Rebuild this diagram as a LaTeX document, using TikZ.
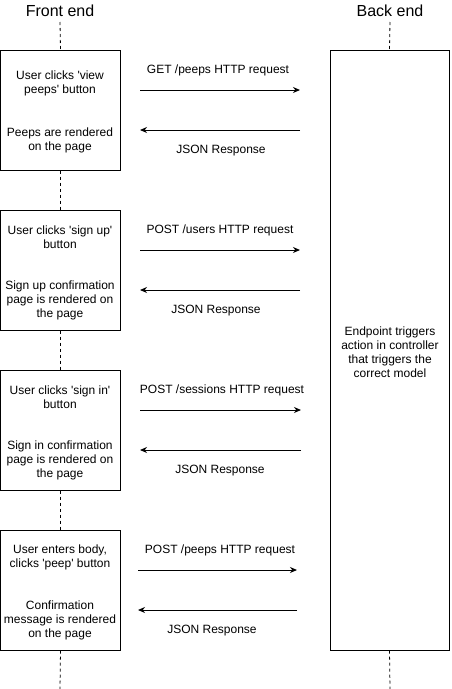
\documentclass[tikz,border=0pt]{standalone}
\usepackage{fontspec}
\setmainfont{Liberation Sans}
\usetikzlibrary{arrows.meta}
\newcommand{\sq}{\textquotesingle}
\begin{document}
\begin{tikzpicture}[x=1pt,y=-1pt,
  lbl/.style={font=\fontsize{12}{14}\selectfont, align=center, inner sep=0pt},
  head/.style={font=\fontsize{16}{19}\selectfont, inner sep=0pt},
  life/.style={line width=0.8pt, dash pattern=on 3pt off 3pt},
  boxst/.style={draw, line width=1pt, inner sep=0pt},
  msg/.style={line width=1pt, -{Stealth[length=7pt,width=6pt]}}]
\useasboundingbox (0,0) rectangle (451,689);
% headings
\node[head] (fe) at (60,11) {Front end};
\node[head] (be) at (390,11) {Back end};
% front boxes
\node[boxst, minimum width=120pt, minimum height=120pt] (b1) at (60.5,110) {};
\node[boxst, minimum width=120pt, minimum height=120pt] (b2) at (60.5,270) {};
\node[boxst, minimum width=120pt, minimum height=120pt] (b3) at (60.5,430) {};
\node[boxst, minimum width=120pt, minimum height=120pt] (b4) at (60.5,590) {};
% back box
\node[boxst, minimum width=119pt, minimum height=600pt] (bk) at (389.5,350) {};
% lifelines
\coordinate (fend) at (60,689);
\coordinate (bend) at (390,689);
\draw[life] (fe.south |- 0,22) -- (b1.north);
\draw[life] (b1.south) -- (b2.north);
\draw[life] (b2.south) -- (b3.north);
\draw[life] (b3.south) -- (b4.north);
\draw[life] (b4.south) -- (fend);
\draw[life] (be.south |- 0,22) -- (bk.north);
\draw[life] (bk.south) -- (bend);
% box texts
\node[lbl] (t1a) at (60,83.5) {User clicks \sq view\\peeps\sq{} button};
\node[lbl] (t1b) at (60,140.5) {Peeps are rendered\\on the page};
\node[lbl] (t2a) at (60,237) {User clicks \sq sign up\sq\\button};
\node[lbl] (t2b) at (60,300) {Sign up confirmation\\page is rendered on\\the page};
\node[lbl] (t3a) at (60,397) {User clicks \sq sign in\sq\\button};
\node[lbl] (t3b) at (60,460) {Sign in confirmation\\page is rendered on\\the page};
\node[lbl] (t4a) at (60,557.5) {User enters body,\\clicks \sq peep\sq{} button};
\node[lbl] (t4b) at (60,620) {Confirmation\\message is rendered\\on the page};
\node[lbl] (tb) at (390,352) {Endpoint triggers\\action in controller\\that triggers the\\correct model};
% arrow endpoints
\coordinate (r1s) at (140,90);  \coordinate (r1e) at (300,90);
\coordinate (s1s) at (300,130); \coordinate (s1e) at (140,130);
\coordinate (r2s) at (140,250); \coordinate (r2e) at (300,250);
\coordinate (s2s) at (300,290); \coordinate (s2e) at (140,290);
\coordinate (r3s) at (140,410); \coordinate (r3e) at (301,410);
\coordinate (s3s) at (301,450); \coordinate (s3e) at (140,450);
\coordinate (r4s) at (138,570); \coordinate (r4e) at (297,570);
\coordinate (s4s) at (297,610); \coordinate (s4e) at (138,610);
\draw[msg] (r1s) -- (r1e);
\draw[msg] (s1s) -- (s1e);
\draw[msg] (r2s) -- (r2e);
\draw[msg] (s2s) -- (s2e);
\draw[msg] (r3s) -- (r3e);
\draw[msg] (s3s) -- (s3e);
\draw[msg] (r4s) -- (r4e);
\draw[msg] (s4s) -- (s4e);
% arrow labels
\node[lbl] (l1a) at (218,70.5) {GET /peeps HTTP request};
\node[lbl] (l1b) at (221,150.5) {JSON Response};
\node[lbl] (l2a) at (220,230.5) {POST /users HTTP request};
\node[lbl] (l2b) at (216,310.5) {JSON Response};
\node[lbl] (l3a) at (222,390.5) {POST /sessions HTTP request};
\node[lbl] (l3b) at (220,470.5) {JSON Response};
\node[lbl] (l4a) at (220,550.5) {POST /peeps HTTP request};
\node[lbl] (l4b) at (212,630.5) {JSON Response};
\end{tikzpicture}
\end{document}
